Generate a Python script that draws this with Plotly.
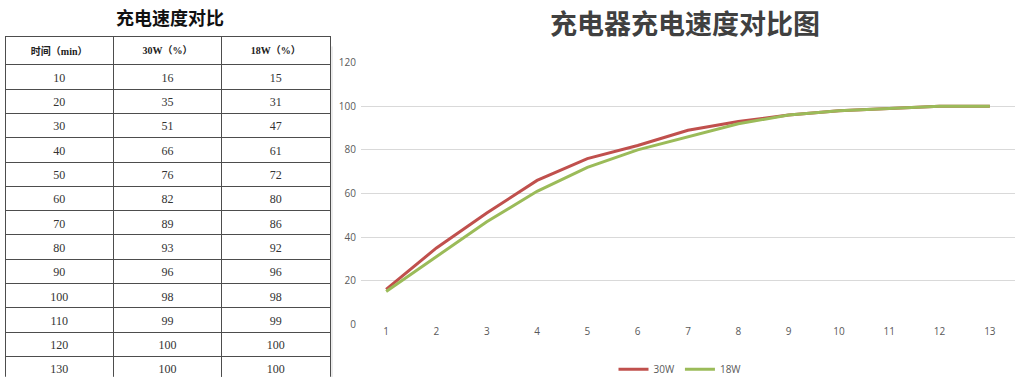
import plotly.graph_objects as go

minutes = [10, 20, 30, 40, 50, 60, 70, 80, 90, 100, 110, 120, 130]
x_labels = [str(i) for i in range(1, 14)]
w30 = [16, 35, 51, 66, 76, 82, 89, 93, 96, 98, 99, 100, 100]
w18 = [15, 31, 47, 61, 72, 80, 86, 92, 96, 98, 99, 100, 100]
headers = ["时间（min）", "30W（%）", "18W（%）"]

fig = go.Figure()

fig.add_trace(go.Table(
    domain=dict(x=[5/1024, 330/1024], y=[0.0, 1 - 30/384]),
    columnwidth=[1, 1, 1],
    header=dict(values=[f"<b>{h}</b>" for h in headers], height=18, align="center",
                line=dict(color="#4d4d4d", width=1), fill=dict(color="white"),
                font=dict(family="Liberation Serif, Noto Sans CJK SC", size=10, color="#222")),
    cells=dict(values=[minutes, w30, w18], height=24.3, align="center",
               line=dict(color="#4d4d4d", width=1), fill=dict(color="white"),
               font=dict(family="Liberation Serif, Noto Sans CJK SC", size=12, color="#333")),
))

fig.add_trace(go.Scatter(x=x_labels, y=w30, mode="lines", name="30W",
                         line=dict(color="#C0504D", width=3), xaxis="x", yaxis="y"))
fig.add_trace(go.Scatter(x=x_labels, y=w18, mode="lines", name="18W",
                         line=dict(color="#9BBB59", width=3), xaxis="x", yaxis="y"))

fig.update_layout(
    width=1024, height=384,
    margin=dict(l=0, r=0, t=0, b=0),
    paper_bgcolor="white", plot_bgcolor="white",
    xaxis=dict(domain=[361/1024, 1015/1024], type="category", range=[-0.5, 12.5], showgrid=False,
               showline=False, ticks="", tickfont=dict(family="Open Sans, Noto Sans CJK SC", size=10, color="#595959"),
               zeroline=False),
    yaxis=dict(domain=[1 - 329/384, 1 - 57/384], range=[0, 120], dtick=20,
               showgrid=True, gridcolor="#D9D9D9", gridwidth=1, zeroline=False, showline=False,
               ticks="", ticklabelstandoff=4,
               tickfont=dict(family="Open Sans, Noto Sans CJK SC", size=10, color="#595959")),
    legend=dict(orientation="h", x=680/1024, xanchor="center", y=1 - 376/384, yanchor="middle",
                font=dict(family="Open Sans", size=10, color="#595959"), itemwidth=30,
                bgcolor="rgba(0,0,0,0)"),
    showlegend=True,
    annotations=[
        dict(text="<b>充电速度对比</b>", x=170/1024, y=1 - 9/384, xref="paper", yref="paper",
             showarrow=False, xanchor="center", yanchor="middle",
             font=dict(family="Noto Sans CJK SC", size=18, color="#111")),
        dict(text="<b>充电器充电速度对比图</b>", x=685/1024, y=1 - 15/384, xref="paper", yref="paper",
             showarrow=False, xanchor="center", yanchor="middle",
             font=dict(family="Noto Sans CJK SC", size=27, color="#404040")),
    ],
    shapes=[
        dict(type="line", xref="paper", yref="paper", x0=332/1024, x1=332/1024,
             y0=0, y1=1 - 40/384, line=dict(color="#D9D9D9", width=1)),
    ],
)

fig.write_html("out.html")
